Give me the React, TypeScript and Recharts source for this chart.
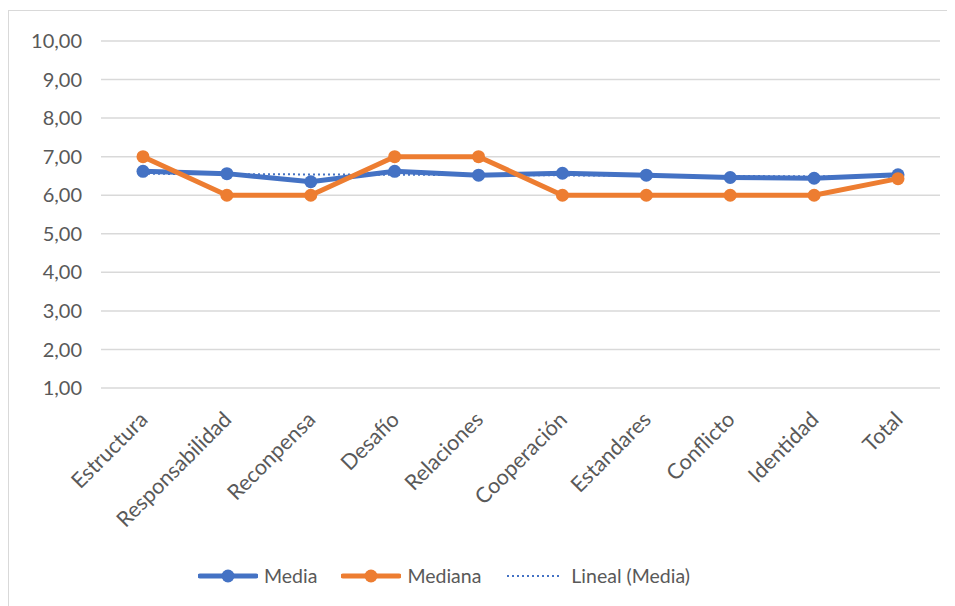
import React from 'react';
import { LineChart, Line, XAxis, YAxis, CartesianGrid, Legend } from 'recharts';

const categories = [
  'Estructura', 'Responsabilidad', 'Reconpensa', 'Desafío', 'Relaciones',
  'Cooperación', 'Estandares', 'Conflicto', 'Identidad', 'Total',
];
const media = [6.62, 6.56, 6.35, 6.62, 6.52, 6.57, 6.52, 6.46, 6.44, 6.53];
const mediana = [7, 6, 6, 7, 7, 6, 6, 6, 6, 6.43];
const yTicks = [1, 2, 3, 4, 5, 6, 7, 8, 9, 10];

const BLUE = '#4472C4';
const ORANGE = '#ED7D31';
const TEXT = '#595959';
const FONT = 'Lato, "Open Sans", sans-serif';

// least-squares linear trend over the Media series (x = 1..n)
const linearTrend = (ys: number[]) => {
  const n = ys.length;
  const xs = ys.map((_, i) => i + 1);
  const mx = xs.reduce((a, b) => a + b, 0) / n;
  const my = ys.reduce((a, b) => a + b, 0) / n;
  let num = 0;
  let den = 0;
  xs.forEach((x, i) => {
    num += (x - mx) * (ys[i] - my);
    den += (x - mx) * (x - mx);
  });
  const slope = num / den;
  return xs.map((x) => my + slope * (x - mx));
};

const trend = linearTrend(media);

const data = categories.map((name, i) => ({
  name,
  media: media[i],
  mediana: mediana[i],
  trend: trend[i],
}));

const fmt = (v: number) => v.toFixed(2).replace('.', ',');

const CategoryTick = (props: any) => {
  const { x, y, payload } = props;
  const ax = x + 6;
  const ay = y + 31;
  return (
    <text
      x={ax}
      y={ay}
      textAnchor="end"
      transform={`rotate(-45, ${ax}, ${ay})`}
      fill={TEXT}
      fontSize={21.5}
      fontFamily={FONT}
    >
      {payload.value}
    </text>
  );
};

const LegendIcon = ({ color, dotted }: { color: string; dotted?: boolean }) => (
  <svg width={60} height={16} style={{ display: 'block' }}>
    {dotted ? (
      <line x1={2} y1={8} x2={56} y2={8} stroke={color} strokeWidth={2} strokeDasharray="2 3" />
    ) : (
      <>
        <line x1={2} y1={8} x2={58} y2={8} stroke={color} strokeWidth={5} strokeLinecap="round" />
        <circle cx={30} cy={8} r={6.5} fill={color} />
      </>
    )}
  </svg>
);

const legendItems = [
  { label: 'Media', color: BLUE, dotted: false },
  { label: 'Mediana', color: ORANGE, dotted: false },
  { label: 'Lineal (Media)', color: BLUE, dotted: true },
];

const renderLegend = () => (
  <div style={{ display: 'flex', alignItems: 'center', gap: 24 }}>
    {legendItems.map((it) => (
      <div key={it.label} style={{ display: 'flex', alignItems: 'center', gap: 6 }}>
        <LegendIcon color={it.color} dotted={it.dotted} />
        <span style={{ color: TEXT, fontSize: 19.5, fontFamily: FONT }}>{it.label}</span>
      </div>
    ))}
  </div>
);

export default function App() {
  return (
    <div
      style={{
        marginTop: 2,
        width: 960,
        height: 600,
        border: '1px solid #d9d9d9',
        background: '#fff',
        boxSizing: 'border-box',
      }}
    >
      <LineChart
        width={945}
        height={594}
        data={data}
        margin={{ top: 30, right: 14, left: 0, bottom: 0 }}
      >
        <CartesianGrid vertical={false} stroke="#d9d9d9" strokeWidth={1.5} />
        <XAxis
          dataKey="name"
          height={217}
          interval={0}
          padding={{ left: 42, right: 42 }}
          axisLine={false}
          tickLine={false}
          tickSize={0}
          tick={<CategoryTick />}
        />
        <YAxis
          width={92}
          domain={[1, 10]}
          ticks={yTicks}
          interval={0}
          axisLine={false}
          tickLine={false}
          tickMargin={13}
          tickFormatter={fmt}
          tick={{ fill: TEXT, fontSize: 20, fontFamily: FONT }}
        />
        <Legend
          verticalAlign="middle"
          content={renderLegend}
          wrapperStyle={{ top: 553, left: 189, width: 'auto' }}
        />
        <Line
          type="linear"
          dataKey="media"
          stroke={BLUE}
          strokeWidth={5}
          dot={{ r: 6.5, fill: BLUE, stroke: BLUE, strokeWidth: 0 }}
          isAnimationActive={false}
        />
        <Line
          type="linear"
          dataKey="trend"
          stroke={BLUE}
          strokeWidth={2}
          strokeDasharray="2 3"
          dot={false}
          isAnimationActive={false}
        />
        <Line
          type="linear"
          dataKey="mediana"
          stroke={ORANGE}
          strokeWidth={5}
          dot={{ r: 6.5, fill: ORANGE, stroke: ORANGE, strokeWidth: 0 }}
          isAnimationActive={false}
        />
      </LineChart>
    </div>
  );
}
